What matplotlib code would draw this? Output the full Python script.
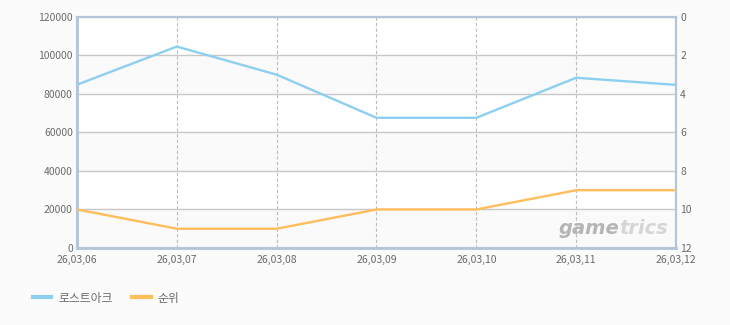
import matplotlib.pyplot as plt
from matplotlib.lines import Line2D

plt.rcParams['font.family'] = ['Noto Sans CJK KR', 'DejaVu Sans']

dates = ["26,03,06", "26,03,07", "26,03,08", "26,03,09", "26,03,10", "26,03,11", "26,03,12"]
users = [84800, 104600, 90000, 67600, 67600, 88400, 84700]
rank = [10, 11, 11, 10, 10, 9, 9]

blue = "#8ecff0"
orange = "#ffbe5c"
txt = "#6a6a6a"

fig = plt.figure(figsize=(7.3, 3.25), dpi=100)
fig.patch.set_facecolor("#fbfbfb")
ax = fig.add_axes([0.1055, 0.237, 0.8205, 0.711])
ax.set_facecolor("white")

# alternating bands
for i, lo in enumerate(range(0, 120000, 20000)):
    if i % 2 == 0:
        ax.axhspan(lo, lo + 20000, color="#fafafa", zorder=0)

x = range(len(dates))
ax.plot(x, users, color=blue, lw=1.7, zorder=3)
ax.set_xlim(0, len(dates) - 1)
ax.set_ylim(0, 120000)
ax.set_yticks(range(0, 120001, 20000))
ax.set_xticks(list(x))
ax.set_xticklabels(dates)
ax.grid(axis="y", color="#c8c8c8", lw=1, zorder=1)
ax.grid(axis="x", color="#bdbdbd", lw=0.8, ls=(0, (3, 2)), zorder=1)
ax.set_axisbelow(True)
ax.tick_params(axis="y", length=0, labelsize=7.5, colors=txt, pad=3)
ax.tick_params(axis="x", length=0, labelsize=7.5, colors=txt, pad=5)

ax2 = ax.twinx()
ax2.plot(x, rank, color=orange, lw=1.7, zorder=3)
ax2.set_ylim(12, 0)
ax2.set_yticks(range(0, 13, 2))
ax2.tick_params(length=0, labelsize=7.5, colors=txt, pad=3)

for a in (ax, ax2):
    for s in a.spines.values():
        s.set_color("#b3c6d9")
        s.set_linewidth(1.5)
ax.spines["left"].set_linewidth(2)
ax.spines["bottom"].set_linewidth(2)

# watermark
ax.text(0.905, 0.085, "game", transform=ax.transAxes, ha="right", va="center",
        fontsize=14, fontstyle="italic", fontweight="bold", color="#b5b5b5",
        family="DejaVu Sans")
ax.text(0.905, 0.085, "trics", transform=ax.transAxes, ha="left", va="center",
        fontsize=14, fontstyle="italic", fontweight="bold", color="#d5d5d5",
        family="DejaVu Sans")

handles = [Line2D([], [], color=blue, lw=3), Line2D([], [], color=orange, lw=3)]
leg = fig.legend(handles, ["로스트아크", "순위"], loc="lower left",
                 bbox_to_anchor=(0.03, 0.03), ncol=2, frameon=False,
                 fontsize=8.5, handlelength=1.6, columnspacing=1.6, handletextpad=0.6)
for t in leg.get_texts():
    t.set_color(txt)

fig.savefig("out.png", dpi=100, facecolor=fig.get_facecolor())
